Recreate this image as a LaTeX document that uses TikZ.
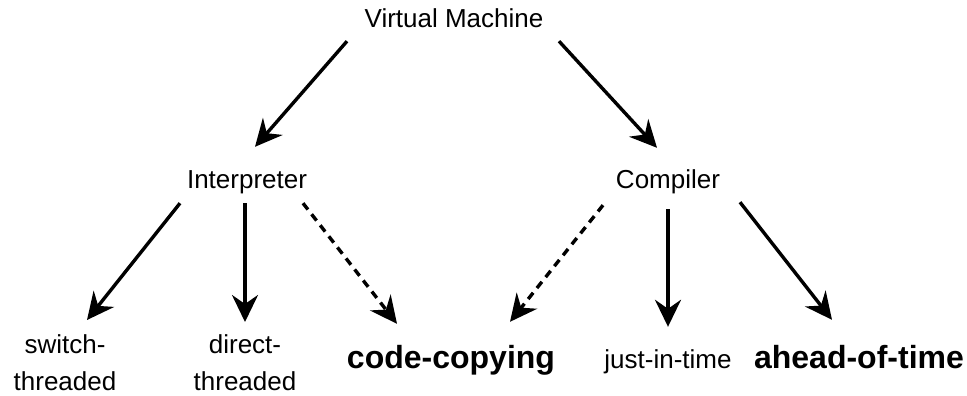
\documentclass[tikz,border=0pt]{standalone}
\usepackage{fontspec}
\setmainfont{Liberation Sans}
\usetikzlibrary{arrows.meta}

\begin{document}
\begin{tikzpicture}[x=1pt,y=-1pt,every node/.style={inner sep=0pt},
norm/.style={font=\fontsize{26}{37}\selectfont, text height=19pt, text depth=6pt, anchor=base},
two/.style={font=\fontsize{26}{37}\selectfont, align=center, anchor=north},
big/.style={font=\fontsize{32}{38}\selectfont\bfseries, text height=23pt, text depth=7pt, anchor=base},
edge/.style={line width=3.4pt, -{Stealth[length=27pt,width=26pt,inset=9pt]}},
maybe/.style={edge, dash pattern=on 8pt off 6pt}]
\useasboundingbox (0,0) rectangle (967,396);
\node[norm] (vm) at (454,28) {Virtual Machine};
\node[norm] (interp) at (247,188) {Interpreter};
\node[norm] (comp) at (668,188) {Compiler};
\node[two] (switch) at (65,334) {switch-\\threaded};
\node[two] (direct) at (245,334) {direct-\\threaded};
\node[big] (copy) at (451,368) {code-copying};
\node[norm] (jit) at (668,368) {just-in-time};
\node[big] (aot) at (859,368) {ahead-of-time};
\draw[edge] ([xshift=-107pt,yshift=-7pt]vm.south) -- ([xshift=8pt,yshift=22pt]interp.north);
\draw[edge] ([xshift=105pt,yshift=-7pt]vm.south) -- ([xshift=-11pt,yshift=21pt]comp.north);
\draw[edge] ([xshift=-67pt,yshift=-9pt]interp.south) -- ([xshift=22pt,yshift=14pt]switch.north);
\draw[edge] ([xshift=-2pt,yshift=-9pt]interp.south) -- ([yshift=12pt]direct.north);
\draw[maybe] ([xshift=56pt,yshift=-9pt]interp.south) -- ([xshift=-54pt,yshift=21pt]copy.north);
\draw[maybe] ([xshift=-65pt,yshift=-11pt]comp.south) -- ([xshift=59pt,yshift=23pt]copy.north);
\draw[edge] ([yshift=-15pt]comp.south) -- ([yshift=22pt]jit.north);
\draw[edge] ([xshift=72pt,yshift=-8pt]comp.south) -- ([xshift=-27pt,yshift=25pt]aot.north);
\end{tikzpicture}
\end{document}
